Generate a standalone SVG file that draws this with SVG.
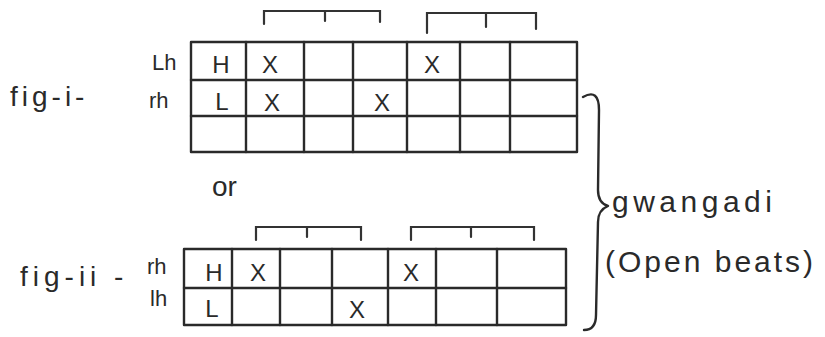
<svg xmlns="http://www.w3.org/2000/svg" width="825" height="337" viewBox="0 0 825 337">
<style>
.ln{stroke:#2a2a2a;stroke-width:2.4;fill:none;stroke-linecap:round;stroke-linejoin:round}
.br{stroke:#333;stroke-width:2.2;fill:none;stroke-linecap:round}
.t{font-family:"Liberation Sans",Arial,sans-serif;fill:#2a2a2a}
.c{font-size:24px;text-anchor:middle}
.lab{font-size:22px}
.big{font-size:28px}
.hw{font-size:30px}
</style>
<rect width="825" height="337" fill="#fff"/>
<g id="fig1">
  <text class="t big" x="10" y="106" letter-spacing="4">fig-i-</text>
  <text class="t lab" x="152" y="70">Lh</text>
  <text class="t lab" x="149" y="108">rh</text>
  <g id="grid1">
    <rect class="ln" x="191" y="42" width="386" height="110"/>
    <path class="ln" d="M191,80H577M191,116H577M246,42V152M304,42V152M353,42V152M407,42V152M460,42V152M510,42V152"/>
    <text class="t c" x="221" y="73">H</text>
    <text class="t c" x="270" y="73">X</text>
    <text class="t c" x="432" y="73">X</text>
    <text class="t c" x="222" y="110">L</text>
    <text class="t c" x="272" y="111">X</text>
    <text class="t c" x="382" y="111">X</text>
  </g>
  <g id="brackets1">
    <path class="br" d="M264,24V11H380V22M325,11V21"/>
    <path class="br" d="M427,33V13H536V29M486,13V27"/>
  </g>
</g>
<text id="or" class="t big" x="212" y="196">or</text>
<g id="fig2">
  <text class="t big" x="20" y="286" letter-spacing="5">fig-ii -</text>
  <text class="t lab" x="147" y="274">rh</text>
  <text class="t lab" x="150" y="306">lh</text>
  <g id="grid2">
    <rect class="ln" x="184" y="249" width="382" height="76"/>
    <path class="ln" d="M184,288H566M232,249V325M280,249V325M332,249V325M388,249V325M436,249V325M497,249V325"/>
    <text class="t c" x="214" y="281">H</text>
    <text class="t c" x="258" y="281">X</text>
    <text class="t c" x="411" y="281">X</text>
    <text class="t c" x="212" y="317">L</text>
    <text class="t c" x="357" y="318">X</text>
  </g>
  <g id="brackets2">
    <path class="br" d="M256,240V227H361V240M307,227V237"/>
    <path class="br" d="M411,240V227H534V240M471,227V237"/>
  </g>
</g>
<g id="connectors">
  <path id="brace" class="ln" d="M583,97Q599,88 599,110L598,190Q598,203 608,206Q598,210 598,222L596,315Q596,330 584,330"/>
</g>
<g id="label">
  <text class="t hw" x="612" y="212" letter-spacing="4.5">gwangadi</text>
  <text class="t hw" x="605" y="272" letter-spacing="3">(Open beats)</text>
</g>
</svg>
